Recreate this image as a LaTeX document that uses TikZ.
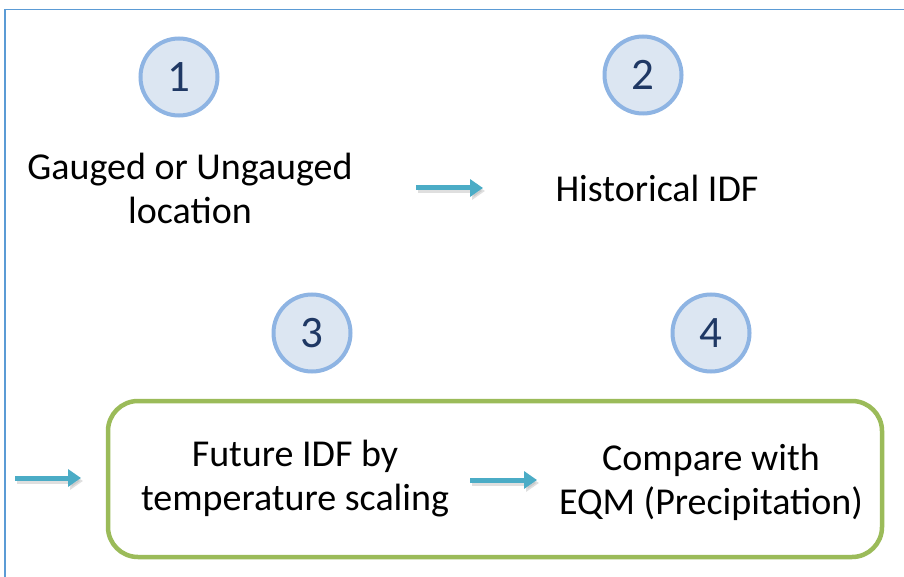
\documentclass[tikz,border=0pt]{standalone}
\usepackage{fontspec}
\setmainfont{Carlito}
\usetikzlibrary{arrows.meta}
\definecolor{framec}{HTML}{5B9BD5}
\definecolor{circfill}{HTML}{DCE6F2}
\definecolor{circline}{HTML}{8EB4E3}
\definecolor{numc}{HTML}{1F3864}
\definecolor{arrc}{HTML}{4BACC6}
\definecolor{boxc}{HTML}{9BBB59}
\tikzset{
  numcirc/.style={circle,draw=circline,fill=circfill,line width=4pt,minimum size=77pt,inner sep=0pt,font=\fontsize{45}{52}\selectfont,text=numc},
  lbl/.style={align=center,font=\fontsize{38}{44}\selectfont,text=black,inner sep=0pt},
  flowarr/.style={draw=arrc,line width=5pt,-{Triangle[length=13pt,width=17pt]}},
  shadowarr/.style={draw=black!35,opacity=0.35,line width=5pt,-{Triangle[length=13pt,width=17pt]}},
}
\begin{document}
\begin{tikzpicture}[x=1pt,y=-1pt]
\useasboundingbox (0,0) rectangle (904,577);
\fill[white] (0,0) rectangle (904,577);
\draw[framec,line width=1.6pt] (5,577) -- (5,9.5) -- (904,9.5);
% circles
\node[numcirc] (c1) at (179,77) {1};
\node[numcirc] (c2) at (643,75) {2};
\node[numcirc] (c3) at (312,333) {3};
\node[numcirc] (c4) at (711,333) {4};
% labels
\node[lbl] (t1) at (190,188) {Gauged or Ungauged\\location};
\node[lbl] (t2) at (657,188) {Historical IDF};
\node[lbl] (t3) at (295,479) {Future IDF by\\temperature scaling};
\node[lbl] (t4) at (711,482) {Compare with\\EQM (Precipitation)};
% box
\draw[boxc,line width=4.5pt,rounded corners=30pt] (108,401) rectangle (882,557);
% arrows
\coordinate (a1s) at (416,188); \coordinate (a1e) at (483,188);
\coordinate (a2s) at (15,478); \coordinate (a2e) at (81,478);
\coordinate (a3s) at (470,480); \coordinate (a3e) at (537,480);
\coordinate (a1ss) at (418,191); \coordinate (a1se) at (485,191);
\coordinate (a2ss) at (17,481); \coordinate (a2se) at (83,481);
\coordinate (a3ss) at (472,483); \coordinate (a3se) at (539,483);
\draw[shadowarr] (a1ss) -- (a1se);
\draw[shadowarr] (a2ss) -- (a2se);
\draw[shadowarr] (a3ss) -- (a3se);
\draw[flowarr] (a1s) -- (a1e);
\draw[flowarr] (a2s) -- (a2e);
\draw[flowarr] (a3s) -- (a3e);
\end{tikzpicture}
\end{document}
